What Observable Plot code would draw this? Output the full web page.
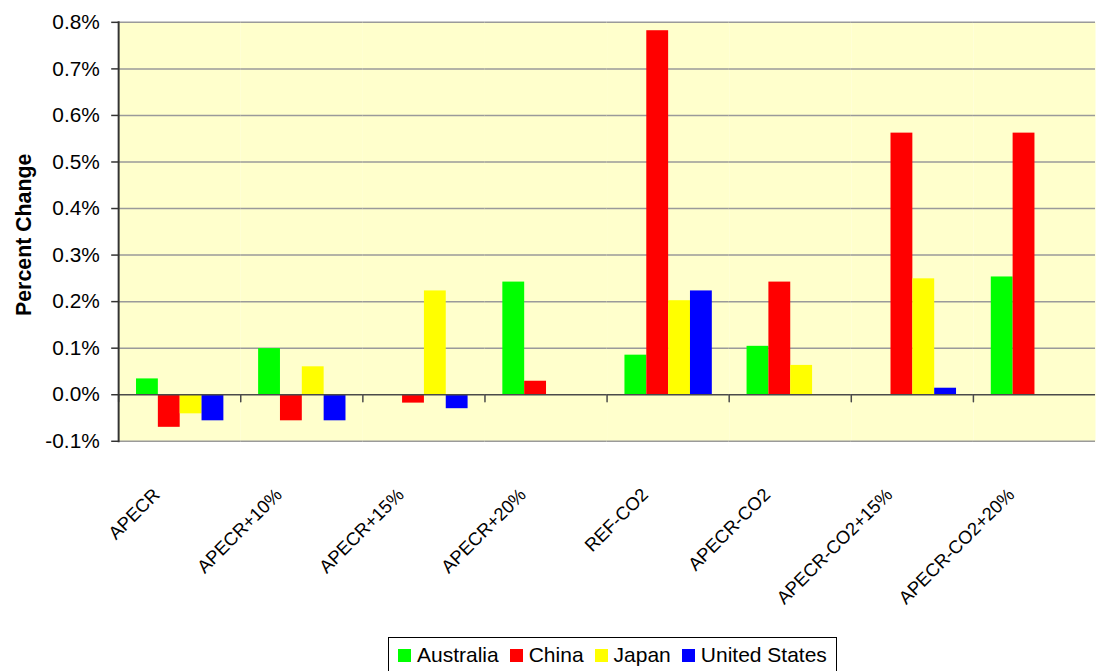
<!DOCTYPE html>
<html>
<head>
<meta charset="utf-8">
<script src="https://cdn.jsdelivr.net/npm/d3@7"></script>
<script src="https://cdn.jsdelivr.net/npm/@observablehq/plot@0.6"></script>
<style>
  body { margin: 0; background: #fff; overflow: hidden; font-family: "Liberation Sans", Arial, sans-serif; }
  #chart { position: relative; width: 1098px; height: 671px; }
  #chart svg { display: block; }
  .lg-swatches-wrap {
    position: absolute; left: 388px; top: 637px;
    display: inline-flex; min-height: 0; margin: 0;
    font-family: "Liberation Sans", Arial, sans-serif; font-size: 21px; color: #000;
    border: 1px solid #000; padding: 5px 9px 8px 9px; background: #fff;
  }
  .lg-swatches-wrap .lg-swatch { margin-right: 11px; }
  .lg-swatches-wrap .lg-swatch:last-child { margin-right: 0; }
  .lg-swatch > svg { margin-right: 6px; }
</style>
</head>
<body>
<div id="chart"></div>
<script>
// Scenarios along the category axis
const scenarios = ["APECR", "APECR+10%", "APECR+15%", "APECR+20%", "REF-CO2", "APECR-CO2", "APECR-CO2+15%", "APECR-CO2+20%"];
// Countries (one bar per country within each scenario)
const countries = ["Australia", "China", "Japan", "United States"];
const colors = ["#00FF00", "#FF0000", "#FFFF00", "#0000FF"];

// Percent change by scenario, one array per country
const australia    = [0.034, 0.099, 0, 0.242, 0.085, 0.104, 0, 0.253];
const china        = [-0.070, -0.056, -0.018, 0.029, 0.782, 0.242, 0.562, 0.562];
const japan        = [-0.041, 0.060, 0.223, 0, 0.202, 0.063, 0.249, 0];
const unitedStates = [-0.056, -0.056, -0.030, 0, 0.223, 0, 0.014, 0];

const yTicks = [-0.1, 0, 0.1, 0.2, 0.3, 0.4, 0.5, 0.6, 0.7, 0.8];
const yGrid = [-0.1, 0.1, 0.2, 0.3, 0.4, 0.5, 0.6, 0.7, 0.8];

const series = [australia, china, japan, unitedStates];
const rows = scenarios.flatMap((s, i) =>
  countries.map((c, j) => ({scenario: s, country: c, value: series[j][i]}))
);

const fmt = d => d.toFixed(1) + "%";
// short downward stroke used for the category boundary ticks on the zero line
const boundaryTick = {draw(context, l) { context.moveTo(0, 0); context.lineTo(0, -l); }};
const fontFamily = "'Liberation Sans', Arial, sans-serif";

const chart = Plot.plot({
  width: 1106,
  height: 630,
  marginLeft: 116,
  marginRight: 0,
  marginTop: 22,
  marginBottom: 186,
  style: {fontFamily, fontSize: "21px", color: "#000", background: "transparent", overflow: "visible"},
  fx: {domain: scenarios, paddingInner: 0, paddingOuter: 0, axis: null, label: null},
  x: {domain: countries, paddingInner: 0, paddingOuter: 0.69, axis: null},
  y: {domain: [-0.1, 0.8], axis: null},
  color: {domain: countries, range: colors},
  marks: [
    Plot.frame({fill: "#FFFFCC"}),
    Plot.gridY(yGrid, {stroke: "#9a9a9a", strokeOpacity: 1, strokeWidth: 1.5}),
    Plot.barY(rows, {fx: "scenario", x: "country", y: "value", fill: "country"}),
    Plot.ruleY([0], {stroke: "#4a4a4a", strokeWidth: 1.5}),
    Plot.vector(scenarios, {
      fx: d => d, y: () => 0, frameAnchor: "left",
      length: 7, rotate: 180, anchor: "start", shape: boundaryTick,
      stroke: "#4a4a4a", strokeWidth: 1.5
    }),
    Plot.frame({anchor: "left", fx: () => scenarios[0], stroke: "#333", strokeWidth: 2}),
    Plot.axisY(yTicks, {
      tickFormat: fmt, tickSize: 7, tickPadding: 12, fontSize: 21,
      stroke: "#333", strokeWidth: 1.5, label: null
    }),
    Plot.text(["Percent Change"], {
      fx: () => scenarios[0], text: d => d, frameAnchor: "left", textAnchor: "middle",
      dx: -95, dy: 3, rotate: -90, fontWeight: "bold", fontSize: 21.5
    }),
    Plot.text(scenarios, {
      fx: d => d, text: d => d, frameAnchor: "bottom",
      dx: -19, dy: 55, rotate: -45, textAnchor: "end", fontSize: 18.5
    })
  ]
});

const legend = Plot.legend({
  color: {domain: countries, range: colors},
  swatchSize: 13,
  className: "lg"
});

const root = document.getElementById("chart");
root.appendChild(chart);
root.appendChild(legend);
</script>
</body>
</html>
